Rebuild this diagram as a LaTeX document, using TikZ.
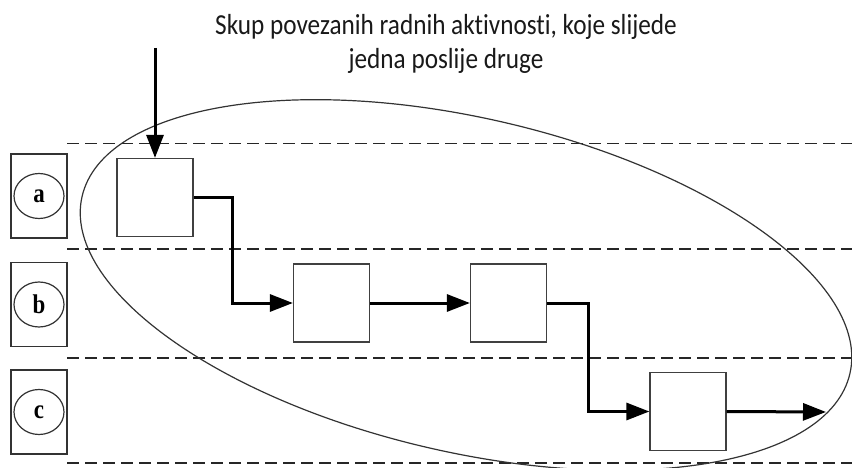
\documentclass[tikz,border=0pt]{standalone}
\usepackage{fontspec}
\setmainfont{Liberation Serif}
\newfontfamily\capfont[FakeStretch=0.87,Ligatures=NoCommon,RawFeature=-calt]{Carlito}
\newfontfamily\lanefont[FakeStretch=0.85]{Liberation Serif}
\usetikzlibrary{arrows.meta,shapes.geometric}
\tikzset{
  act/.style={draw=black!75, line width=1.2pt, minimum width=76pt, minimum height=78pt, inner sep=0pt, fill=white},
  lane/.style={draw=black!80, line width=1.2pt, minimum width=56pt, minimum height=84pt, inner sep=0pt},
  lanelbl/.style={draw=black!80, line width=1.2pt, ellipse, minimum width=50pt, minimum height=45pt, inner sep=0pt, font=\lanefont\fontsize{27}{28}\selectfont\bfseries},
  captxt/.style={font=\capfont\fontsize{29}{35}\selectfont, anchor=base, inner sep=0pt, text=black!90},
  sep/.style={draw=black!85, line width=1.8pt, dash pattern=on 12pt off 6pt},
  flow/.style={draw=black, line width=3pt, -{Triangle[length=23pt,width=17pt]}},
}
\begin{document}
\begin{tikzpicture}[x=1pt,y=-1pt]
\useasboundingbox (0,0) rectangle (852,468);
% caption
\node[captxt] (cap1) at (446,35) {Skup povezanih radnih aktivnosti, koje slijede};
\node[captxt] (cap2) at (446,69) {jedna poslije druge};
% separators
\coordinate (s1l) at (67,143.5); \coordinate (s1r) at (852,143.5);
\coordinate (s2l) at (67,249); \coordinate (s2r) at (852,249);
\coordinate (s3l) at (67,358); \coordinate (s3r) at (852,358);
\coordinate (s4l) at (67,463); \coordinate (s4r) at (852,463);
\draw[sep] (s1l) -- (s1r);
\draw[sep] (s2l) -- (s2r);
\draw[sep] (s3l) -- (s3r);
\draw[sep] (s4l) -- (s4r);
% lane labels
\node[lane] (la) at (39,196) {};
\node[lane] (lb) at (39,304.5) {};
\node[lane] (lc) at (39,412) {};
\node[lanelbl] (ea) at (la.center) {a};
\node[lanelbl] (eb) at (lb.center) {b};
\node[lanelbl] (ec) at (lc.center) {c};
% big ellipse
\node[draw=black!80, line width=1.2pt, ellipse, minimum width=788pt, minimum height=334pt, inner sep=0pt, rotate=-13] (grp) at (466,285) {};
% activities
\node[act] (A) at (155,197.5) {};
\node[act] (B) at (331.5,303) {};
\node[act] (C) at (508.5,303) {};
\node[act] (D) at (688,411.5) {};
% connectors
\coordinate (start) at (155,48);
\coordinate (fin) at (826,412);
\draw[flow] (start) -- (A.north);
\draw[flow] (A.east) -- (232,197.5) |- (B.west);
\draw[flow] (B.east) -- (C.west);
\draw[flow] (C.east) -- (588,303) |- (D.west);
\draw[flow] (D.east) -- (fin);
\end{tikzpicture}
\end{document}
